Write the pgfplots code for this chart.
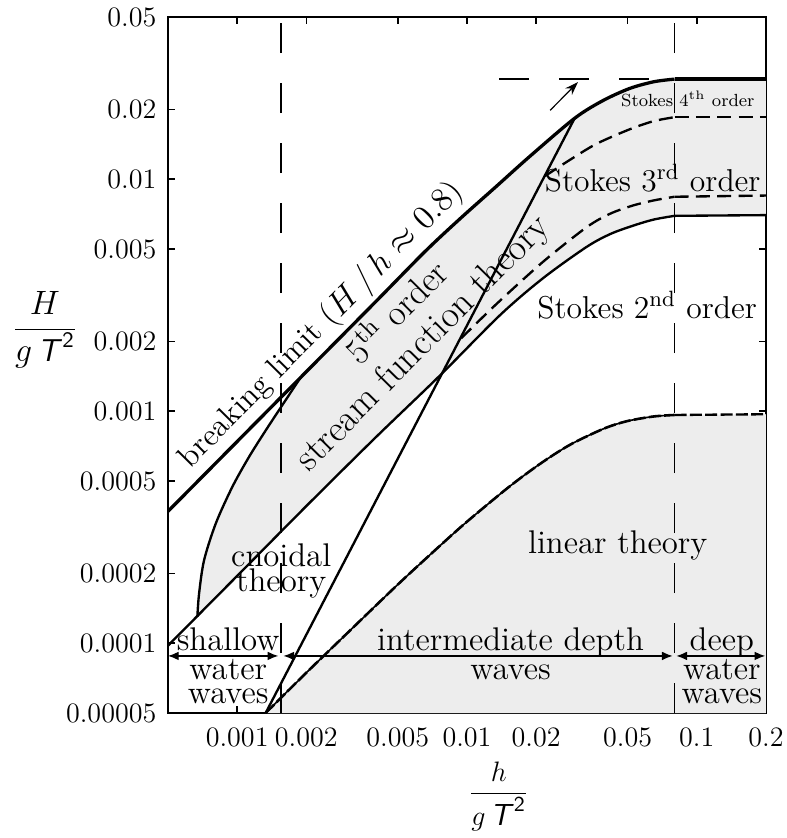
\documentclass[border=0pt]{standalone}
\usepackage{fontspec}
\usepackage{pgfplots}
\pgfplotsset{compat=1.18}
\usetikzlibrary{arrows.meta}
\newcommand{\sT}{\textsf{\slshape T}}
\newcommand{\bigf}{\fontsize{14}{16.8}\selectfont}
\definecolor{shade}{gray}{0.93}

\begin{document}
\begin{tikzpicture}
\begin{axis}[
  name=ax, xmode=log, ymode=log, scale only axis,
  width=89.7mm, height=104.4mm,
  xmin=0.0005, xmax=0.2, ymin=0.00005, ymax=0.05,
  xtick={0.001,0.002,0.005,0.01,0.02,0.05,0.1,0.2},
  xticklabels={0.001,0.002,0.005,0.01,0.02,0.05,0.1,0.2},
  ytick={0.00005,0.0001,0.0002,0.0005,0.001,0.002,0.005,0.01,0.02,0.05},
  yticklabels={0.00005,0.0001,0.0002,0.0005,0.001,0.002,0.005,0.01,0.02,0.05},
  minor xtick={}, minor ytick={},
  tick align=inside, tick pos=both,
  major tick length=1.1mm,
  every tick/.style={black, line width=0.6pt},
  axis line style={line width=1.2pt},
  ticklabel style={font=\fontsize{12}{14}\selectfont},
  xticklabel style={yshift=-1.0mm},
  yticklabel style={xshift=-0.5mm},
  xlabel={$\displaystyle\frac{h}{g\,\mbox{\sT}^{\mathsf{2}}}$},
  ylabel={$\displaystyle\frac{H}{g\,\mbox{\sT}^{\mathsf{2}}}$},
  xlabel style={at={(axis description cs:0.553,-0.12)}, anchor=center, font=\fontsize{13}{15}\selectfont},
  ylabel style={rotate=-90, at={(axis description cs:-0.2057,0.55)}, anchor=center, font=\fontsize{13.5}{15}\selectfont},
]
% shaded region: cnoidal / stream function / Stokes
\addplot[fill=shade, draw=none] coordinates {
 (0.000671,0.00013) (0.000683,0.000164) (0.000718,0.000228) (0.000808,0.000329)
 (0.000954,0.000473) (0.001128,0.000637) (0.001334,0.000829) (0.00158,0.00107)
 (0.0019,0.00141) (0.002,0.00148) (0.004,0.00296) (0.0066,0.0049) (0.0094,0.0068)
 (0.0134,0.0093) (0.0187,0.0125) (0.0294,0.0183) (0.039,0.0218) (0.051,0.0246)
 (0.065,0.0263) (0.08,0.027) (0.2,0.027) (0.2,0.007) (0.08,0.00695) (0.065,0.0067)
 (0.0527,0.0063) (0.042,0.0058) (0.0331,0.0051) (0.0214,0.00374) (0.0139,0.00259) (0.0076,0.00142)
 (0.004,0.00077) (0.002,0.00039) (0.001,0.000195) (0.000671,0.000131)} -- cycle;
% shaded region: linear theory
\addplot[fill=shade, draw=none] coordinates {
 (0.00133,0.00005) (0.002,0.0000746) (0.003,0.00011) (0.005,0.000179) (0.0075,0.000259)
 (0.01,0.000334) (0.015,0.000466) (0.02,0.000577) (0.025,0.000669) (0.03,0.000742)
 (0.04,0.000846) (0.05,0.000907) (0.065,0.000949) (0.08,0.000963) (0.2,0.00097) (0.2,0.00005)} -- cycle;

% vertical dashed limits
\draw[dash pattern=on 4.5mm off 4.5mm, line width=0.55pt] (axis cs:0.00155,0.00005) -- (axis cs:0.00155,0.05);
\draw[dash pattern=on 4.5mm off 4.5mm, line width=0.55pt] (axis cs:0.08,0.00005) -- (axis cs:0.08,0.05);
\draw[dash pattern=on 4.5mm off 4.5mm, line width=0.55pt] (axis cs:0.01385,0.027) -- (axis cs:0.08,0.027);

% breaking limit
\addplot[smooth, line width=1.4pt] coordinates {
 (0.0005,0.00037) (0.001,0.00074) (0.002,0.00148) (0.004,0.00296) (0.0066,0.0049)
 (0.0094,0.0068) (0.0134,0.0093) (0.0187,0.0125) (0.0294,0.0183) (0.039,0.0218)
 (0.051,0.0246) (0.065,0.0263) (0.08,0.027)};
\addplot[line width=1.4pt] coordinates {(0.08,0.027) (0.2,0.027)};
% cnoidal left boundary
\addplot[smooth, line width=1pt] coordinates {
 (0.000671,0.00013) (0.000683,0.000164) (0.000718,0.000228) (0.000808,0.000329)
 (0.000954,0.000473) (0.001128,0.000637) (0.001334,0.000829) (0.00158,0.00107) (0.0019,0.00141)};
% lower solid boundary
\addplot[smooth, line width=1pt] coordinates {
 (0.0005,0.0000976) (0.001,0.000195) (0.002,0.00039) (0.004,0.00077) (0.0076,0.00142)
 (0.0139,0.00259) (0.0214,0.00374) (0.0331,0.0051) (0.042,0.0058) (0.0527,0.0063) (0.065,0.0067) (0.08,0.00695)};
\addplot[line width=1pt] coordinates {(0.08,0.00695) (0.2,0.007)};
% Ursell line
\addplot[line width=1pt] coordinates {(0.00133,0.00005) (0.0294,0.0183)};
% dashed Stokes boundaries
\addplot[smooth, line width=1pt, dash pattern=on 2.1mm off 1.1mm] coordinates {
 (0.0218,0.0103) (0.028,0.0121) (0.0366,0.0142) (0.051,0.0164) (0.065,0.0178) (0.08,0.0185)};
\addplot[line width=1pt, dash pattern=on 2.1mm off 1.1mm] coordinates {(0.08,0.0185) (0.2,0.0185)};
\addplot[smooth, line width=1pt, dash pattern=on 2.1mm off 1.1mm] coordinates {
 (0.00943,0.00206) (0.0134,0.00289) (0.0214,0.0044) (0.0331,0.0062) (0.042,0.0071) (0.0527,0.0077) (0.065,0.0081) (0.08,0.0084)};
\addplot[line width=1pt, dash pattern=on 2.1mm off 1.1mm] coordinates {(0.08,0.0084) (0.2,0.0085)};
% linear theory boundary
\addplot[smooth, line width=0.7pt] coordinates {
 (0.00133,0.00005) (0.002,0.0000746) (0.003,0.00011) (0.005,0.000179) (0.0075,0.000259)
 (0.01,0.000334) (0.015,0.000466) (0.02,0.000577) (0.025,0.000669) (0.03,0.000742)
 (0.04,0.000846) (0.05,0.000907) (0.065,0.000949) (0.08,0.000963)};
\addplot[smooth, line width=1.1pt, dash pattern=on 1.8mm off 0.5mm] coordinates {
 (0.00133,0.00005) (0.002,0.0000746) (0.003,0.00011) (0.005,0.000179) (0.0075,0.000259)
 (0.01,0.000334) (0.015,0.000466) (0.02,0.000577) (0.025,0.000669) (0.03,0.000742)
 (0.04,0.000846) (0.05,0.000907) (0.065,0.000949) (0.08,0.000963)};
\addplot[line width=1pt, dash pattern=on 1.8mm off 0.5mm] coordinates {(0.08,0.000963) (0.2,0.00097)};

% arrows
\draw[{Latex[length=1.6mm,width=1.3mm]}-{Latex[length=1.6mm,width=1.3mm]}, line width=0.5pt]
  (axis cs:0.0005,0.0000881) -- (axis cs:0.00151,0.0000881);
\draw[{Latex[length=1.6mm,width=1.3mm]}-{Latex[length=1.6mm,width=1.3mm]}, line width=0.5pt]
  (axis cs:0.00159,0.0000881) -- (axis cs:0.0785,0.0000881);
\draw[{Latex[length=1.6mm,width=1.3mm]}-{Latex[length=1.6mm,width=1.3mm]}, line width=0.5pt]
  (axis cs:0.0815,0.0000881) -- (axis cs:0.1985,0.0000881);
\draw[-{Stealth[length=2mm,width=1.4mm]}, line width=0.5pt] (axis cs:0.023,0.0198) -- (axis cs:0.0304,0.0262);

% texts
\node[rotate=45.3, font=\fontsize{13.5}{16}\selectfont] at (axis cs:0.00232,0.00235) {breaking limit ($H\,/\,h \approx 0.8$)};
\node[rotate=45.3, font=\fontsize{15.5}{18}\selectfont] at (axis cs:0.00488,0.00272) {5\textsuperscript{th} order};
\node[rotate=45.3, font=\fontsize{16}{19}\selectfont] at (axis cs:0.00650,0.00195) {stream function theory};
\node[font=\fontsize{14}{10.5}\selectfont, align=center] at (axis cs:0.001555,0.000205) {cnoidal\\theory};
\node[font=\bigf] at (axis cs:0.0453,0.000265) {linear theory};
\node[font=\fontsize{13.5}{16}\selectfont] at (axis cs:0.0608,0.00287) {Stokes 2\textsuperscript{nd} order};
\node[font=\fontsize{13.5}{16}\selectfont] at (axis cs:0.0643,0.0101) {Stokes 3\textsuperscript{rd} order};
\node[font=\fontsize{7.5}{9}\selectfont] at (axis cs:0.0914,0.0222) {Stokes 4\textsuperscript{th} order};
\node[font=\bigf, anchor=base] at (axis cs:0.000914,0.0000934) {shallow};
\node[font=\bigf, anchor=base] at (axis cs:0.000914,0.0000694) {water};
\node[font=\bigf, anchor=base] at (axis cs:0.000914,0.0000547) {waves};
\node[font=\bigf, anchor=base] at (axis cs:0.01547,0.0000934) {intermediate depth};
\node[font=\bigf, anchor=base] at (axis cs:0.01547,0.0000694) {waves};
\node[font=\bigf, anchor=base] at (axis cs:0.1285,0.0000934) {deep};
\node[font=\bigf, anchor=base] at (axis cs:0.1285,0.0000694) {water};
\node[font=\bigf, anchor=base] at (axis cs:0.1285,0.0000547) {waves};
\end{axis}
\pgfresetboundingbox
\path[use as bounding box] ([xshift=-25.2mm,yshift=-18.75mm]ax.south west) rectangle ([xshift=3.15mm,yshift=2.55mm]ax.north east);
\end{tikzpicture}
\end{document}
